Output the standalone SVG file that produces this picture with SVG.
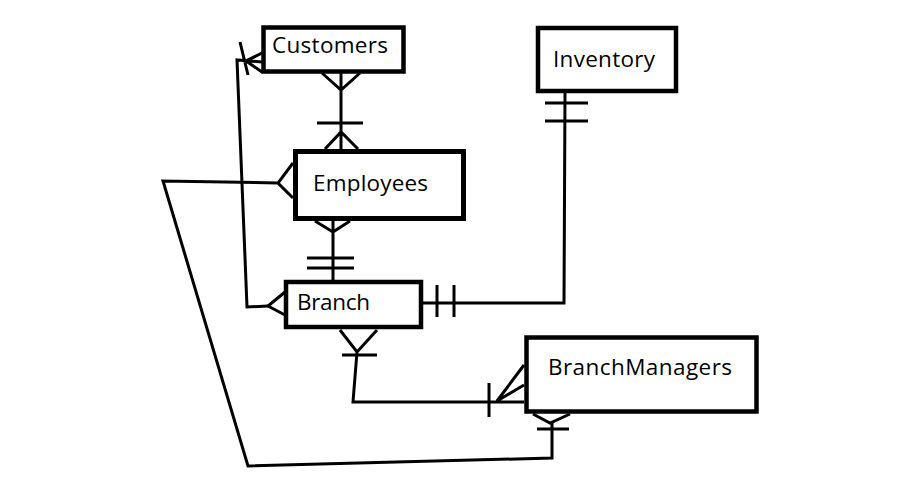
<svg xmlns="http://www.w3.org/2000/svg" width="911" height="499" viewBox="0 0 911 499">
<style>
.box{fill:#fff;stroke:#000;stroke-width:4.5}
.lbl{font-family:"Open Sans","Noto Sans",sans-serif;font-size:22.5px;fill:#000}
.ln{fill:none;stroke:#000;stroke-width:3;stroke-linecap:butt;stroke-linejoin:miter}
</style>
<rect width="911" height="499" fill="#fff"/>
<g id="connectors">
<!-- Customers - Employees -->
<path class="ln" d="M322,73 L341,90 L360,73 M341,73 L341,152 M317,123 L363,123 M325,149 L341,132 L358,149"/>
<!-- Customers - Branch (left) -->
<path class="ln" d="M262,53 L246,61 L262,72 M262,62 L237,60 L247,307 L268,306 M240,42 L248,75"/>
<path class="ln" d="M285,292 L268,306 L285,315"/>
<!-- Employees - Branch -->
<path class="ln" d="M315,221 L333,232 L350,221 M333,221 L333,282 M307,258 L354,258 M307,268 L354,268"/>
<!-- Employees - BranchManagers (long loop) -->
<path class="ln" d="M293,163 L278,183 L293,198 M278,183 L163,181 L248,466 L552,458 L552,423"/>
<path class="ln" d="M533,414 L550,423 L570,414 M537,429 L569,429"/>
<!-- Branch - Inventory -->
<path class="ln" d="M423,303 L564,303 L565,93 M437,285 L437,317 M454,285 L454,317 M545,103 L588,103 M545,121 L588,121"/>
<!-- Branch - BranchManagers -->
<path class="ln" d="M340,330 L357,352 L377,330 M342,355 L377,355 M357,352 L353,402 L524,402 M489,383 L489,417 M524,365 L497,401 L524,385"/>
</g>
<g id="customers">
<rect class="box" x="263.5" y="27.5" width="140" height="44"/>
<text class="lbl" x="272" y="53" textLength="116">Customers</text>
</g>
<g id="inventory">
<rect class="box" x="538" y="28" width="138" height="63"/>
<text class="lbl" x="553" y="67" textLength="102">Inventory</text>
</g>
<g id="employees">
<rect class="box" x="295.5" y="151.5" width="168" height="67" style="stroke-width:5"/>
<text class="lbl" x="313" y="191" textLength="115">Employees</text>
</g>
<g id="branch">
<rect class="box" x="286" y="282" width="135" height="45"/>
<text class="lbl" x="297" y="310" textLength="73">Branch</text>
</g>
<g id="branchmanagers">
<rect class="box" x="526.5" y="337.5" width="230" height="74"/>
<text class="lbl" x="548" y="375" textLength="184">BranchManagers</text>
</g>
</svg>
